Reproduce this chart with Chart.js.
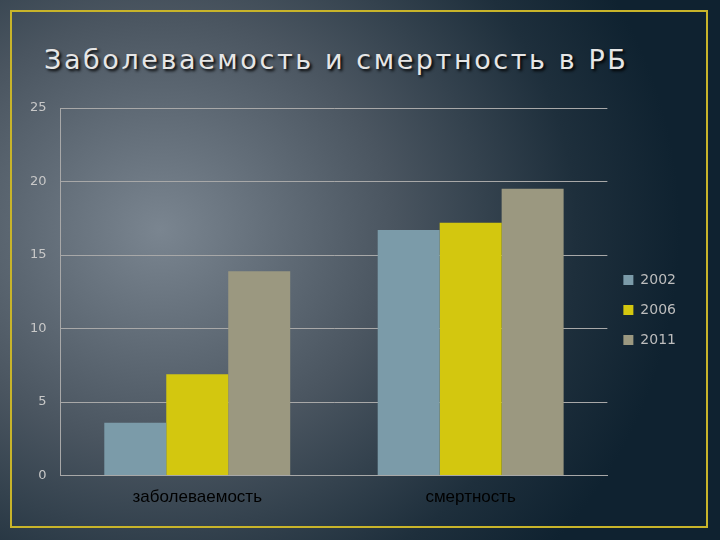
<!DOCTYPE html>
<html>
<head>
<meta charset="utf-8">
<script src="https://cdn.jsdelivr.net/npm/chart.js@4/dist/chart.umd.min.js"></script>
<style>
  html, body { margin: 0; padding: 0; }
  #wrap {
    position: relative; width: 720px; height: 540px; overflow: hidden;
    background: radial-gradient(ellipse 520px 480px at 160px 230px, #7a8590 0%, #4a5560 45%, #1e2f3c 80%, #0f2230 100%);
  }
  #frame {
    position: absolute; left: 10px; top: 10px; width: 698px; height: 518px;
    border: 2px solid #c8b42a; box-sizing: border-box;
  }
  #title {
    position: absolute; left: 44px; top: 44px; font-family: "DejaVu Sans", sans-serif;
    font-size: 27px; letter-spacing: 2.6px; color: #e6e6e6; text-shadow: 2px 2px 3px #000;
  }
  #chart { position: absolute; left: 0; top: 0; }
</style>
</head>
<body>
<div id="wrap">
  <div id="frame"></div>
  <div id="title">Заболеваемость и смертность в РБ</div>
  <canvas id="chart" width="720" height="540"></canvas>
</div>
<script>
const categories = ["заболеваемость", "смертность"];
const seriesNames = ["2002", "2006", "2011"];
const values2002 = [3.6, 16.7];
const values2006 = [6.9, 17.2];
const values2011 = [13.9, 19.5];
const seriesColors = ["#7b9ba9", "#d3c70f", "#9b9880"];

const ctx = document.getElementById("chart").getContext("2d");
new Chart(ctx, {
  type: "bar",
  data: {
    labels: categories,
    datasets: [values2002, values2006, values2011].map((data, i) => ({
      label: seriesNames[i],
      data,
      backgroundColor: seriesColors[i],
      borderWidth: 0,
      categoryPercentage: 0.68,
      barPercentage: 1
    }))
  },
  options: {
    responsive: false,
    animation: false,
    layout: { padding: { top: 108, left: 16, right: 34, bottom: 28 } },
    scales: {
      y: {
        min: 0, max: 25,
        ticks: { stepSize: 5, color: "#c8c8c8", font: { family: "DejaVu Sans", size: 13 }, padding: 14 },
        grid: { color: "#a8a8a8", drawTicks: false },
        border: { color: "#a8a8a8" }
      },
      x: {
        ticks: { color: "#000", font: { family: "Liberation Sans", size: 17 }, padding: 4 },
        grid: { display: false },
        border: { color: "#a8a8a8" }
      }
    },
    plugins: {
      legend: {
        position: "right",
        align: "center",
        labels: { boxWidth: 10, boxHeight: 10, color: "#bdbdbd", padding: 16, font: { family: "DejaVu Sans", size: 14 } }
      },
      tooltip: { enabled: false }
    }
  }
});
</script>
</body>
</html>
